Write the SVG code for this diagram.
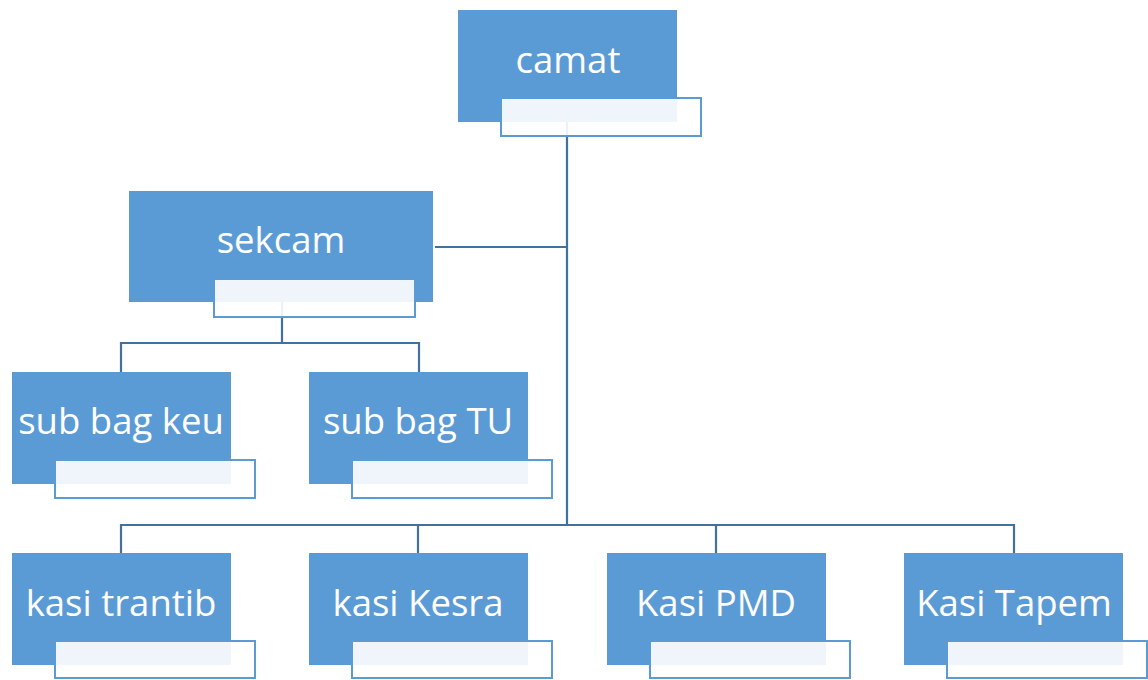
<svg xmlns="http://www.w3.org/2000/svg" width="1148" height="680" viewBox="0 0 1148 680">
<style>
.box{fill:#5B9BD5;}
.sub{fill:#ffffff;fill-opacity:0.9;stroke:#5B9BD5;stroke-width:2;}
.lbl{font-family:"Open Sans","Noto Sans",sans-serif;font-size:36.5px;fill:#ffffff;text-anchor:middle;}
.conn{fill:none;stroke:#41719C;stroke-width:2.2;}
</style>
<rect width="1148" height="680" fill="#ffffff"/>
<g id="connectors">
<path class="conn" d="M567,122 V525"/>
<path class="conn" d="M435,247 H567"/>
<path class="conn" d="M282,302 V343 M121,372 V343 H419 V372"/>
<path class="conn" d="M121,553 V525 H1014 V553 M418,525 V553 M716,525 V553"/>
</g>
<g id="camat">
<rect class="box" x="458" y="10" width="219" height="112"/>
<rect class="sub" x="501" y="98" width="200" height="38"/>
<text class="lbl" x="568" y="73">camat</text>
</g>
<g id="sekcam">
<rect class="box" x="129" y="191" width="304" height="111"/>
<rect class="sub" x="214" y="279" width="201" height="38"/>
<text class="lbl" x="281" y="253">sekcam</text>
</g>
<g id="subbagkeu">
<rect class="box" x="12" y="372" width="219" height="112"/>
<rect class="sub" x="55" y="460" width="200" height="38"/>
<text class="lbl" x="121" y="434">sub bag keu</text>
</g>
<g id="subbagtu">
<rect class="box" x="309" y="372" width="219" height="112"/>
<rect class="sub" x="352" y="460" width="200" height="38"/>
<text class="lbl" x="418" y="434">sub bag TU</text>
</g>
<g id="kasitrantib">
<rect class="box" x="12" y="553" width="219" height="112"/>
<rect class="sub" x="55" y="641" width="200" height="37"/>
<text class="lbl" x="121" y="616">kasi trantib</text>
</g>
<g id="kasikesra">
<rect class="box" x="309" y="553" width="219" height="112"/>
<rect class="sub" x="352" y="641" width="200" height="37"/>
<text class="lbl" x="418" y="616">kasi Kesra</text>
</g>
<g id="kasipmd">
<rect class="box" x="607" y="553" width="219" height="112"/>
<rect class="sub" x="650" y="641" width="200" height="37"/>
<text class="lbl" x="716" y="616">Kasi PMD</text>
</g>
<g id="kasitapem">
<rect class="box" x="904" y="553" width="219" height="112"/>
<rect class="sub" x="947" y="641" width="200" height="37"/>
<text class="lbl" x="1014" y="616">Kasi Tapem</text>
</g>
</svg>
